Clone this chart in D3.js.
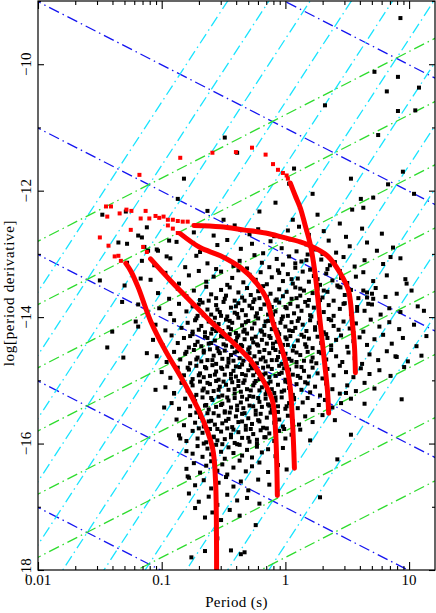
<!DOCTYPE html>
<html>
<head>
<meta charset="utf-8">
<script src="https://cdn.jsdelivr.net/npm/d3@7"></script>
<style>
body { margin: 0; background: #fff; }
svg { display: block; }
text { font-family: "Liberation Serif", "DejaVu Serif", serif; fill: #000; }
</style>
</head>
<body>
<svg width="436" height="613"></svg>
<script>
// reference line families (log10 of the constant)
var logB = [10, 11, 12, 13, 14, 15];          // field, gauss
var logAge = [3, 4, 5, 6, 7, 8, 9, 10];       // characteristic age, yr
var logEdot = [29, 30, 31, 32, 33, 34, 35, 36, 37, 38, 39]; // erg/s

var xTicks = [0.01, 0.1, 1, 10];
var xTickLabels = ["0.01", "0.1", "1", "10"];
var yTicks = [-18, -16, -14, -12, -10];

// pulsars, [log P, log Pdot]
var pulsarsOuter = [[0.93,-9.27],[0.72,-10.12],[0.91,-10.20],[1.08,-10.37],[0.82,-10.43],[0.32,-10.65],[0.91,-10.74],[1.05,-10.73],[0.75,-11.12],[0.07,-11.65],[0.95,-11.70],[0.53,-11.81],[0.83,-11.90],[1.04,-12.05],[0.22,-12.05],[0.61,-12.13],[-0.39,-11.40],[-0.08,-12.19],[-0.21,-12.33],[0.54,-12.30],[0.63,-12.27],[0.71,-12.11],[0.26,-12.38],[0.06,-12.46],[-0.63,-12.32],[-0.50,-12.46],[-0.82,-11.81],[-0.87,-12.13],[-0.49,-11.16],[0.03,-11.89],
  [-1.48,-12.38],[-1.29,-12.33],[-1.35,-12.82],[-1.28,-12.84],[-1.19,-12.71],[-1.16,-12.74],[-1.14,-12.89],[-1.11,-12.95],[-1.03,-12.95],[-0.94,-12.79],[-0.96,-13.04],[-1.28,-13.14],[-1.16,-13.11],[-1.50,-13.42],[-1.30,-13.50],[-1.17,-13.39],[-1.32,-13.76],[-1.19,-13.80],[-1.21,-14.07],[-1.19,-14.15],[-1.40,-14.23],[-1.44,-14.48],[-1.31,-14.64],[-1.05,-15.15],[-0.98,-15.43],[-0.90,-15.21],[-0.85,-15.92],[-0.79,-16.52],
  [0.63,-13.58],[0.66,-13.69],[0.70,-13.63],[0.71,-13.71],[0.67,-13.79],[0.58,-13.90],[0.47,-13.79],[0.445,-13.53],[0.85,-13.05],[0.98,-13.47],[1.12,-13.90],[0.89,-14.62],[0.49,-15.20],
  [-0.76,-17.80],[-0.65,-17.70],[-0.55,-17.50],[-0.44,-17.69],[-0.36,-17.75],[-0.33,-17.72]];

var pulsarsUpper = [[-1.12,-12.58],[-0.74,-12.66],[-0.58,-12.71],[-0.41,-12.55],[-0.29,-12.69],[-0.22,-12.61],[-0.09,-12.72],[0.02,-12.63],[0.11,-12.57],[0.19,-12.70],[0.31,-12.64],[0.44,-12.52],[0.49,-12.73],[0.62,-12.60],[0.78,-12.68],
  [-1.04,-12.93],[-0.88,-12.81],[-0.69,-12.97],[-0.55,-12.86],[-0.47,-12.78],[-0.36,-12.92],[-0.27,-12.84],[-0.18,-12.99],[-0.12,-12.80],[-0.03,-12.91],[0.04,-12.77],[0.09,-12.96],[0.17,-12.85],[0.24,-12.93],[0.35,-12.79],[0.41,-12.98],[0.52,-12.88],[0.66,-12.82],[0.74,-12.95],[0.87,-12.90],
  [-1.06,-13.18],[-0.93,-13.07],[-0.81,-13.21],[-0.72,-13.03],[-0.63,-13.15],[-0.56,-13.24],[-0.49,-13.06],[-0.42,-13.19],[-0.37,-13.11],[-0.31,-13.23],[-0.25,-13.02],[-0.19,-13.14],[-0.13,-13.21],[-0.07,-13.08],[-0.02,-13.17],[0.03,-13.04],[0.08,-13.22],[0.13,-13.12],[0.18,-13.01],[0.23,-13.19],[0.29,-13.09],[0.34,-13.24],[0.40,-13.13],[0.47,-13.05],[0.56,-13.20],[0.64,-13.10],[0.79,-13.16],[0.93,-13.07],
  [-1.09,-13.41],[-0.97,-13.30],[-0.86,-13.47],[-0.78,-13.34],[-0.70,-13.27],[-0.64,-13.44],[-0.58,-13.36],[-0.52,-13.28],[-0.47,-13.49],[-0.43,-13.38],[-0.38,-13.26],[-0.34,-13.45],[-0.29,-13.33],[-0.24,-13.41],[-0.20,-13.29],[-0.15,-13.48],[-0.11,-13.37],[-0.06,-13.26],[-0.02,-13.43],[0.02,-13.32],[0.06,-13.47],[0.10,-13.39],[0.14,-13.28],[0.19,-13.44],[0.23,-13.35],[0.28,-13.49],[0.33,-13.31],[0.38,-13.42],[0.44,-13.27],[0.50,-13.46],[0.57,-13.36],[0.63,-13.29],[0.71,-13.43],[0.82,-13.34],[0.97,-13.40],
  [-0.05,-13.30],[0.05,-13.40],[0.12,-13.55],[0.20,-13.25],[0.26,-13.40],[0.31,-13.58],[0.36,-13.18],[0.42,-13.50],[0.17,-13.10],[0.08,-13.15],[0.30,-13.00],[0.45,-13.38]];

var pulsarsCore = [[-1.03,-13.62],[-0.94,-13.71],[-0.87,-13.55],[-0.80,-13.67],[-0.74,-13.58],[-0.69,-13.73],[-0.64,-13.52],[-0.60,-13.64],[-0.56,-13.70],[-0.52,-13.57],[-0.48,-13.66],[-0.45,-13.53],[-0.41,-13.74],[-0.38,-13.61],[-0.35,-13.69],[-0.31,-13.54],[-0.28,-13.65],[-0.25,-13.72],[-0.22,-13.59],[-0.18,-13.51],[-0.15,-13.68],[-0.12,-13.63],[-0.08,-13.74],[-0.05,-13.56],[-0.02,-13.67],[0.01,-13.60],[0.05,-13.71],[0.08,-13.53],[0.12,-13.66],[0.15,-13.58],[0.19,-13.73],[0.22,-13.62],[0.26,-13.55],[0.30,-13.69],[0.34,-13.60],[0.39,-13.74],[0.43,-13.52],[0.48,-13.65],[0.53,-13.57],[0.59,-13.70],[0.66,-13.61],[0.73,-13.54],[0.81,-13.68],[0.90,-13.63],[1.02,-13.58],
  [-1.02,-13.86],[-0.93,-13.95],[-0.86,-13.79],[-0.80,-13.91],[-0.75,-13.83],[-0.71,-13.98],[-0.67,-13.77],[-0.63,-13.88],[-0.60,-13.96],[-0.56,-13.81],[-0.53,-13.92],[-0.50,-13.76],[-0.47,-13.99],[-0.44,-13.85],[-0.41,-13.93],[-0.38,-13.78],[-0.35,-13.89],[-0.32,-13.97],[-0.29,-13.82],[-0.26,-13.76],[-0.23,-13.94],[-0.20,-13.87],[-0.17,-13.80],[-0.14,-13.96],[-0.11,-13.84],[-0.08,-13.91],[-0.05,-13.77],[-0.02,-13.99],[0.01,-13.86],[0.04,-13.79],[0.07,-13.94],[0.10,-13.83],[0.13,-13.90],[0.16,-13.76],[0.20,-13.97],[0.23,-13.85],[0.27,-13.79],[0.31,-13.92],[0.35,-13.81],[0.39,-13.98],[0.44,-13.87],[0.48,-13.78],[0.53,-13.95],[0.58,-13.84],[0.64,-13.90],[0.70,-13.80],[0.77,-13.96],[0.84,-13.86],[0.93,-13.92],[1.07,-13.83],
  [-1.05,-14.12],[-0.97,-14.21],[-0.90,-14.05],[-0.84,-14.17],[-0.79,-14.09],[-0.75,-14.23],[-0.72,-14.02],[-0.68,-14.14],[-0.65,-14.24],[-0.62,-14.07],[-0.59,-14.19],[-0.57,-14.01],[-0.54,-14.11],[-0.51,-14.22],[-0.48,-14.04],[-0.46,-14.16],[-0.43,-14.09],[-0.40,-14.25],[-0.38,-14.01],[-0.35,-14.13],[-0.33,-14.20],[-0.30,-14.06],[-0.27,-14.18],[-0.25,-14.10],[-0.22,-14.02],[-0.19,-14.23],[-0.17,-14.14],[-0.14,-14.06],[-0.11,-14.19],[-0.09,-14.11],[-0.06,-14.24],[-0.03,-14.03],[0.00,-14.15],[0.03,-14.21],[0.05,-14.08],[0.08,-14.17],[0.11,-14.02],[0.14,-14.12],[0.17,-14.22],[0.20,-14.05],[0.24,-14.16],[0.27,-14.09],[0.31,-14.24],[0.35,-14.03],[0.39,-14.14],[0.43,-14.20],[0.47,-14.07],[0.52,-14.18],[0.57,-14.10],[0.63,-14.23],[0.69,-14.04],[0.76,-14.15],[0.84,-14.08],[0.92,-14.19],[1.04,-14.12],
  [-1.07,-14.36],[-0.99,-14.45],[-0.92,-14.29],[-0.87,-14.41],[-0.82,-14.33],[-0.78,-14.48],[-0.75,-14.27],[-0.71,-14.39],[-0.68,-14.46],[-0.65,-14.31],[-0.62,-14.42],[-0.60,-14.26],[-0.57,-14.37],[-0.55,-14.49],[-0.52,-14.30],[-0.50,-14.43],[-0.47,-14.34],[-0.45,-14.27],[-0.43,-14.47],[-0.40,-14.38],[-0.38,-14.29],[-0.36,-14.44],[-0.33,-14.35],[-0.31,-14.26],[-0.29,-14.48],[-0.26,-14.40],[-0.24,-14.31],[-0.22,-14.45],[-0.19,-14.36],[-0.17,-14.28],[-0.15,-14.42],[-0.12,-14.33],[-0.10,-14.49],[-0.07,-14.39],[-0.05,-14.27],[-0.02,-14.44],[0.01,-14.35],[0.04,-14.30],[0.07,-14.46],[0.10,-14.37],[0.13,-14.28],[0.16,-14.43],[0.19,-14.34],[0.22,-14.49],[0.26,-14.31],[0.29,-14.41],[0.33,-14.27],[0.37,-14.45],[0.41,-14.36],[0.45,-14.29],[0.50,-14.47],[0.55,-14.38],[0.60,-14.32],[0.66,-14.44],[0.72,-14.35],[0.79,-14.28],[0.86,-14.42],[0.95,-14.33],[1.06,-14.46],[1.14,-14.30],
  [-1.04,-14.62],[-0.96,-14.71],[-0.90,-14.55],[-0.85,-14.67],[-0.81,-14.58],[-0.77,-14.73],[-0.74,-14.52],[-0.71,-14.64],[-0.68,-14.70],[-0.66,-14.56],[-0.63,-14.68],[-0.61,-14.51],[-0.58,-14.61],[-0.56,-14.74],[-0.53,-14.57],[-0.51,-14.66],[-0.49,-14.53],[-0.46,-14.72],[-0.44,-14.60],[-0.42,-14.69],[-0.39,-14.54],[-0.37,-14.65],[-0.35,-14.75],[-0.32,-14.59],[-0.30,-14.51],[-0.28,-14.67],[-0.25,-14.62],[-0.23,-14.73],[-0.21,-14.55],[-0.18,-14.64],[-0.16,-14.70],[-0.13,-14.57],[-0.11,-14.68],[-0.08,-14.52],[-0.06,-14.63],[-0.03,-14.74],[0.00,-14.58],[0.03,-14.66],[0.06,-14.53],[0.09,-14.71],[0.12,-14.60],[0.15,-14.69],[0.18,-14.55],[0.22,-14.64],[0.25,-14.73],[0.29,-14.57],[0.33,-14.67],[0.37,-14.52],[0.41,-14.62],[0.46,-14.71],[0.51,-14.56],[0.56,-14.65],[0.62,-14.74],[0.68,-14.59],[0.75,-14.68],[0.82,-14.54],[0.90,-14.63],[0.99,-14.70],[-1.12,-14.57],[1.10,-14.61],
  [-1.00,-14.87],[-0.93,-14.96],[-0.87,-14.80],[-0.82,-14.92],[-0.78,-14.83],[-0.75,-14.98],[-0.72,-14.77],[-0.69,-14.89],[-0.66,-14.95],[-0.64,-14.81],[-0.61,-14.93],[-0.59,-14.76],[-0.56,-14.86],[-0.54,-14.99],[-0.51,-14.82],[-0.49,-14.91],[-0.47,-14.78],[-0.44,-14.97],[-0.42,-14.85],[-0.40,-14.94],[-0.37,-14.79],[-0.35,-14.90],[-0.33,-15.00],[-0.30,-14.84],[-0.28,-14.76],[-0.26,-14.92],[-0.23,-14.87],[-0.21,-14.98],[-0.18,-14.80],[-0.16,-14.89],[-0.13,-14.95],[-0.11,-14.82],[-0.08,-14.93],[-0.05,-14.77],[-0.03,-14.88],[0.00,-14.99],[0.03,-14.83],[0.06,-14.91],[0.09,-14.78],[0.12,-14.96],[0.15,-14.85],[0.19,-14.94],[0.22,-14.80],[0.26,-14.89],[0.30,-14.97],[0.34,-14.82],[0.39,-14.92],[0.44,-14.77],[0.49,-14.87],[0.55,-14.95],[0.61,-14.81],[0.68,-14.90],[0.76,-14.84],[0.85,-14.93],[0.96,-14.79],
  [-0.70,-13.80],[-0.62,-13.74],[-0.55,-13.88],[-0.49,-13.71],[-0.40,-13.83],[-0.33,-13.74],[-0.27,-13.86],[-0.21,-13.70],[-0.13,-13.81],[-0.07,-13.72],[0.00,-13.84],[0.09,-13.70],[0.18,-13.82],[0.28,-13.73],
  [-0.73,-14.05],[-0.66,-13.97],[-0.58,-14.09],[-0.52,-13.98],[-0.45,-14.06],[-0.39,-13.95],[-0.32,-14.08],[-0.24,-13.99],[-0.16,-14.07],[-0.10,-13.96],[-0.04,-14.09],[0.02,-13.98],[0.10,-14.06],[0.21,-13.99],[0.37,-14.05],
  [-0.77,-14.30],[-0.70,-14.20],[-0.63,-14.33],[-0.56,-14.22],[-0.50,-14.31],[-0.44,-14.19],[-0.39,-14.32],[-0.34,-14.23],[-0.27,-14.34],[-0.20,-14.21],[-0.13,-14.30],[-0.07,-14.20],[0.00,-14.32],[0.06,-14.22],[0.15,-14.31],[0.24,-14.20],[0.34,-14.33],
  [-0.80,-14.55],[-0.73,-14.44],[-0.66,-14.53],[-0.60,-14.41],[-0.54,-14.54],[-0.48,-14.45],[-0.41,-14.56],[-0.35,-14.46],[-0.29,-14.57],[-0.23,-14.43],[-0.17,-14.52],[-0.10,-14.42],[-0.04,-14.55],[0.02,-14.44],[0.09,-14.56],[0.17,-14.47],[0.27,-14.55],
  [-0.79,-14.80],[-0.72,-14.67],[-0.65,-14.79],[-0.59,-14.68],[-0.52,-14.80],[-0.46,-14.66],[-0.40,-14.78],[-0.34,-14.69],[-0.27,-14.81],[-0.20,-14.67],[-0.14,-14.78],[-0.07,-14.68],[-0.01,-14.81],[0.05,-14.69],[0.13,-14.79],[0.21,-14.70]];

var pulsarsLower = [[-0.97,-15.11],[-0.90,-15.20],[-0.84,-15.04],[-0.79,-15.16],[-0.75,-15.08],[-0.72,-15.23],[-0.69,-15.02],[-0.66,-15.13],[-0.63,-15.19],[-0.61,-15.06],[-0.58,-15.17],[-0.56,-15.01],[-0.53,-15.10],[-0.51,-15.24],[-0.48,-15.07],[-0.46,-15.15],[-0.43,-15.03],[-0.41,-15.21],[-0.38,-15.09],[-0.36,-15.18],[-0.34,-15.04],[-0.31,-15.14],[-0.29,-15.25],[-0.26,-15.08],[-0.24,-15.01],[-0.21,-15.16],[-0.19,-15.11],[-0.16,-15.22],[-0.14,-15.05],[-0.11,-15.14],[-0.09,-15.20],[-0.06,-15.07],[-0.03,-15.18],[0.00,-15.02],[0.03,-15.12],[0.06,-15.23],[0.09,-15.06],[0.13,-15.15],[0.16,-15.03],[0.20,-15.19],[0.24,-15.10],[0.28,-15.24],[0.33,-15.05],[0.38,-15.14],[0.44,-15.21],[0.50,-15.08],[0.57,-15.17],[0.64,-15.04],[0.72,-15.13],[0.94,-15.30],
  [-0.92,-15.36],[-0.86,-15.45],[-0.81,-15.29],[-0.77,-15.41],[-0.73,-15.33],[-0.70,-15.48],[-0.67,-15.27],[-0.64,-15.39],[-0.62,-15.46],[-0.59,-15.31],[-0.56,-15.42],[-0.54,-15.26],[-0.51,-15.37],[-0.49,-15.49],[-0.46,-15.32],[-0.44,-15.43],[-0.41,-15.28],[-0.39,-15.47],[-0.36,-15.35],[-0.34,-15.44],[-0.31,-15.30],[-0.29,-15.40],[-0.26,-15.26],[-0.24,-15.48],[-0.21,-15.34],[-0.19,-15.42],[-0.16,-15.29],[-0.14,-15.38],[-0.11,-15.46],[-0.08,-15.32],[-0.06,-15.41],[-0.03,-15.27],[0.00,-15.45],[0.03,-15.36],[0.07,-15.30],[0.10,-15.44],[0.14,-15.35],[0.18,-15.28],[0.22,-15.47],[0.27,-15.39],[0.32,-15.31],[0.38,-15.43],[0.45,-15.36],[0.53,-15.29],[0.64,-15.37],
  [-0.88,-15.62],[-0.82,-15.71],[-0.77,-15.55],[-0.73,-15.67],[-0.69,-15.58],[-0.66,-15.73],[-0.63,-15.52],[-0.60,-15.64],[-0.57,-15.70],[-0.54,-15.56],[-0.51,-15.68],[-0.49,-15.51],[-0.46,-15.61],[-0.43,-15.74],[-0.40,-15.57],[-0.38,-15.66],[-0.35,-15.53],[-0.32,-15.72],[-0.30,-15.60],[-0.27,-15.69],[-0.24,-15.54],[-0.21,-15.65],[-0.18,-15.75],[-0.15,-15.59],[-0.12,-15.51],[-0.09,-15.67],[-0.05,-15.62],[-0.02,-15.73],[0.02,-15.56],[0.06,-15.65],[0.11,-15.70],[0.16,-15.57],[0.22,-15.66],[0.30,-15.55],[0.40,-15.63],
  [-0.86,-15.87],[-0.80,-15.96],[-0.75,-15.80],[-0.71,-15.92],[-0.67,-15.83],[-0.64,-15.98],[-0.61,-15.77],[-0.58,-15.89],[-0.55,-15.95],[-0.52,-15.81],[-0.49,-15.93],[-0.47,-15.76],[-0.44,-15.86],[-0.41,-15.99],[-0.38,-15.82],[-0.35,-15.91],[-0.32,-15.78],[-0.29,-15.97],[-0.26,-15.85],[-0.23,-15.94],[-0.20,-15.79],[-0.17,-15.90],[-0.13,-15.84],[-0.09,-15.96],[-0.05,-15.80],[0.00,-15.92],[0.05,-15.86],[0.12,-15.78],[0.20,-15.95],[0.53,-15.86],
  [-0.80,-16.12],[-0.75,-16.16],[-0.71,-16.04],[-0.67,-16.21],[-0.63,-16.08],[-0.60,-16.17],[-0.56,-16.02],[-0.52,-16.13],[-0.49,-16.24],[-0.46,-16.06],[-0.42,-16.15],[-0.39,-16.01],[-0.35,-16.19],[-0.31,-16.10],[-0.27,-16.22],[-0.23,-16.05],[-0.19,-16.14],[-0.14,-16.09],[-0.08,-16.20],[-0.02,-16.07],[0.07,-16.16],[0.42,-16.25],
  [-0.80,-16.40],[-0.74,-16.31],[-0.69,-16.46],[-0.64,-16.35],[-0.60,-16.28],[-0.55,-16.43],[-0.51,-16.33],[-0.47,-16.49],[-0.42,-16.38],[-0.37,-16.27],[-0.32,-16.44],[-0.27,-16.36],[-0.21,-16.30],[-0.14,-16.45],[-0.06,-16.34],[0.01,-16.41],
  [-0.78,-16.54],[-0.73,-16.66],[-0.66,-16.58],[-0.60,-16.71],[-0.54,-16.62],[-0.48,-16.53],[-0.42,-16.68],[-0.36,-16.60],[-0.30,-16.74],[-0.22,-16.57],[-0.13,-16.65],[0.28,-16.85],
  [-0.78,-16.79],[-0.70,-16.92],[-0.62,-16.84],[-0.55,-16.97],[-0.47,-16.81],[-0.39,-16.90],[-0.31,-16.86],[-0.21,-16.95],
  [-0.73,-17.02],[-0.65,-17.17],[-0.59,-17.09],[-0.52,-17.21],[-0.45,-17.05],[-0.37,-17.14],[-0.24,-17.29],
  [-0.76,-15.03],[-0.70,-14.92],[-0.63,-15.04],[-0.57,-14.91],[-0.50,-15.02],[-0.44,-14.90],[-0.38,-15.01],[-0.32,-14.92],[-0.25,-15.04],[-0.18,-14.91],[-0.12,-15.02],[-0.05,-14.90],[0.02,-15.03],[0.10,-14.93],[0.18,-15.05],
  [-0.74,-15.27],[-0.67,-15.16],[-0.60,-15.28],[-0.54,-15.15],[-0.47,-15.27],[-0.41,-15.14],[-0.35,-15.26],[-0.28,-15.16],[-0.22,-15.28],[-0.15,-15.17],[-0.08,-15.27],[-0.01,-15.16],[0.07,-15.28],
  [-0.72,-15.51],[-0.65,-15.40],[-0.58,-15.52],[-0.52,-15.39],[-0.45,-15.51],[-0.39,-15.40],[-0.33,-15.52],[-0.26,-15.41],[-0.20,-15.53],[-0.13,-15.40],[-0.06,-15.50],[0.01,-15.41],
  [-0.70,-15.76],[-0.62,-15.65],[-0.55,-15.77],[-0.48,-15.64],[-0.42,-15.78],[-0.35,-15.65],[-0.28,-15.77],[-0.22,-15.63],[-0.15,-15.76],[-0.08,-15.66],[-0.01,-15.77],
  [-0.66,-16.00],[-0.58,-15.90],[-0.51,-16.01],[-0.44,-15.90],[-0.37,-16.02],[-0.30,-15.91],[-0.23,-16.00],[-0.16,-15.90]];

// evolutionary tracks: early sparse steps, then the dense part
var trackSparse = [
  [[-1.50,-12.74],[-1.43,-12.87],[-1.38,-13.04],[-1.35,-13.03],[-1.33,-13.11]],
  [[-1.44,-12.41],[-1.34,-12.36],[-1.25,-12.62],[-1.17,-12.44],[-1.15,-12.89],[-1.12,-12.97]],
  [[-1.41,-12.25],[-1.245,-12.32],[-1.10,-12.44],[-1.05,-12.40],[-0.985,-12.41],[-0.95,-12.55],[-0.91,-12.60],[-0.87,-12.67]],
  [[-1.18,-11.75],[-0.85,-11.48],[-0.59,-11.40],[-0.40,-11.39],[-0.27,-11.32],[-0.16,-11.43],[-0.10,-11.58],[-0.06,-11.67],[-0.02,-11.72],[0.01,-11.76],[0.02,-11.81]],
  [[-1.45,-12.25],[-1.285,-12.30],[-1.13,-12.32],[-1.02,-12.43],[-0.95,-12.46],[-0.91,-12.46],[-0.87,-12.48],[-0.83,-12.49],[-0.79,-12.49]]
];
var trackDense = [
  [[-1.29,-13.15],[-1.25,-13.27],[-1.19,-13.53],[-1.09,-14.06],[-0.97,-14.53],[-0.83,-15.00],[-0.69,-15.52],[-0.59,-16.06],[-0.565,-16.58],[-0.558,-17.21],[-0.556,-18.3]],
  [[-1.09,-13.08],[-0.93,-13.42],[-0.69,-13.90],[-0.61,-14.06],[-0.44,-14.37],[-0.28,-14.69],[-0.18,-15.00],[-0.105,-15.32],[-0.08,-15.79],[-0.065,-16.82]],
  [[-0.85,-12.68],[-0.69,-12.90],[-0.525,-13.03],[-0.36,-13.22],[-0.23,-13.47],[-0.145,-13.74],[-0.105,-14.06],[-0.024,-14.53],[0.032,-15.00],[0.057,-15.64],[0.073,-16.39]],
  [[0.04,-11.88],[0.08,-12.08],[0.12,-12.27],[0.16,-12.55],[0.20,-12.84],[0.24,-13.31],[0.28,-14.06],[0.315,-14.69],[0.34,-15.16],[0.35,-15.52]],
  [[-0.74,-12.55],[-0.525,-12.57],[-0.34,-12.62],[-0.16,-12.67],[-0.016,-12.74],[0.12,-12.81],[0.20,-12.87],[0.34,-13.03],[0.445,-13.31],[0.51,-13.58],[0.54,-14.06],[0.558,-14.45],[0.566,-14.88]]
];

var svg = d3.select("svg"),
    margin = {top: 1, right: 1, bottom: 43, left: 38},
    width = +svg.attr("width") - margin.left - margin.right,
    height = +svg.attr("height") - margin.top - margin.bottom;

var x = d3.scaleLog().domain([0.01, 16.2]).range([0, width]);
var y = d3.scaleLinear().domain([-18, -9]).range([height, 0]);
var px = function(lp) { return x(Math.pow(10, lp)); };

var g = svg.append("g")
    .attr("transform", "translate(" + margin.left + "," + margin.top + ")");

g.append("clipPath").attr("id", "plot")
  .append("rect").attr("width", width).attr("height", height);

var inner = g.append("g").attr("clip-path", "url(#plot)");

// reference lines: constant B (slope -1), age (slope 1), Edot (slope 3)
var lp0 = -2.5, lp1 = 1.6;
function refLines(list, f, color) {
  inner.append("g").selectAll("line")
    .data(list)
    .enter().append("line")
      .attr("x1", px(lp0)).attr("x2", px(lp1))
      .attr("y1", function(d) { return y(f(lp0, d)); })
      .attr("y2", function(d) { return y(f(lp1, d)); })
      .attr("stroke", color)
      .attr("stroke-width", 1.3)
      .attr("stroke-dasharray", "11,4,1.5,4");
}
refLines(logB, function(lp, b) { return 2 * b - 39.01 - lp; }, "#1414f0");
refLines(logEdot, function(lp, e) { return 3 * lp + e - 46.6; }, "#18e4ff");
refLines(logAge, function(lp, t) { return lp - 7.8 - t; }, "#2edc2e");

// pulsars
var pulsars = pulsarsOuter.concat(pulsarsUpper, pulsarsCore, pulsarsLower);
inner.append("g").selectAll("rect")
  .data(pulsars)
  .enter().append("rect")
    .attr("x", function(d) { return px(d[0]) - 2; })
    .attr("y", function(d) { return y(d[1]) - 2; })
    .attr("width", 4).attr("height", 4)
    .attr("fill", "#000");

// tracks
var trackLine = d3.line()
    .x(function(d) { return px(d[0]); })
    .y(function(d) { return y(d[1]); })
    .curve(d3.curveCatmullRom.alpha(0.5));

inner.append("g").selectAll("path")
  .data(trackDense)
  .enter().append("path")
    .attr("d", trackLine)
    .attr("fill", "none")
    .attr("stroke", "#ff0000")
    .attr("stroke-width", 5)
    .attr("stroke-linecap", "round");

inner.append("g").selectAll("rect")
  .data(d3.merge(trackSparse))
  .enter().append("rect")
    .attr("x", function(d) { return px(d[0]) - 2; })
    .attr("y", function(d) { return y(d[1]) - 2; })
    .attr("width", 4).attr("height", 4)
    .attr("fill", "#ff0000");

// frame and ticks
g.append("rect")
  .attr("width", width).attr("height", height)
  .attr("fill", "none").attr("stroke", "#000").attr("stroke-width", 1.2);

var minorX = [];
[0.01, 0.1, 1, 10].forEach(function(dec) {
  for (var k = 2; k <= 9; k++) if (dec * k <= 16.2) minorX.push(dec * k);
});
var minorY = [-17, -15, -13, -11, -9];

function tickGroup(axis, tx, ty) {
  var a = g.append("g").attr("transform", "translate(" + tx + "," + ty + ")").call(axis);
  a.select(".domain").remove();
  a.selectAll("text").remove();
  a.selectAll("line").attr("stroke-width", 1.1);
  return a;
}
tickGroup(d3.axisBottom(x).tickValues(xTicks).tickSize(-8), 0, height);
tickGroup(d3.axisBottom(x).tickValues(minorX).tickSize(-4), 0, height);
tickGroup(d3.axisTop(x).tickValues(xTicks).tickSize(-8), 0, 0);
tickGroup(d3.axisTop(x).tickValues(minorX).tickSize(-4), 0, 0);
tickGroup(d3.axisLeft(y).tickValues(yTicks).tickSize(-6), 0, 0);
tickGroup(d3.axisLeft(y).tickValues(minorY).tickSize(-3), 0, 0);
tickGroup(d3.axisRight(y).tickValues(yTicks).tickSize(-6), width, 0);
tickGroup(d3.axisRight(y).tickValues(minorY).tickSize(-3), width, 0);

// tick labels
g.append("g").selectAll("text")
  .data(xTicks)
  .enter().append("text")
    .attr("x", function(d) { return x(d); })
    .attr("y", height + 15)
    .attr("text-anchor", "middle")
    .style("font-size", "15px")
    .text(function(d, i) { return xTickLabels[i]; });

g.append("g").selectAll("text")
  .data(yTicks)
  .enter().append("text")
    .attr("transform", function(d) { return "translate(-7," + y(d) + ") rotate(-90)"; })
    .attr("text-anchor", "middle")
    .style("font-size", "15px")
    .text(function(d) { return "\u2212" + Math.abs(d); });

svg.append("text")
  .attr("x", margin.left + width / 2)
  .attr("y", 607)
  .attr("text-anchor", "middle")
  .style("font-size", "15px")
  .style("letter-spacing", "0.4px")
  .text("Period (s)");

svg.append("text")
  .attr("transform", "translate(14,293) rotate(-90)")
  .attr("text-anchor", "middle")
  .style("font-size", "15px")
  .style("letter-spacing", "0.7px")
  .text("log[period derivative]");
</script>
</body>
</html>
